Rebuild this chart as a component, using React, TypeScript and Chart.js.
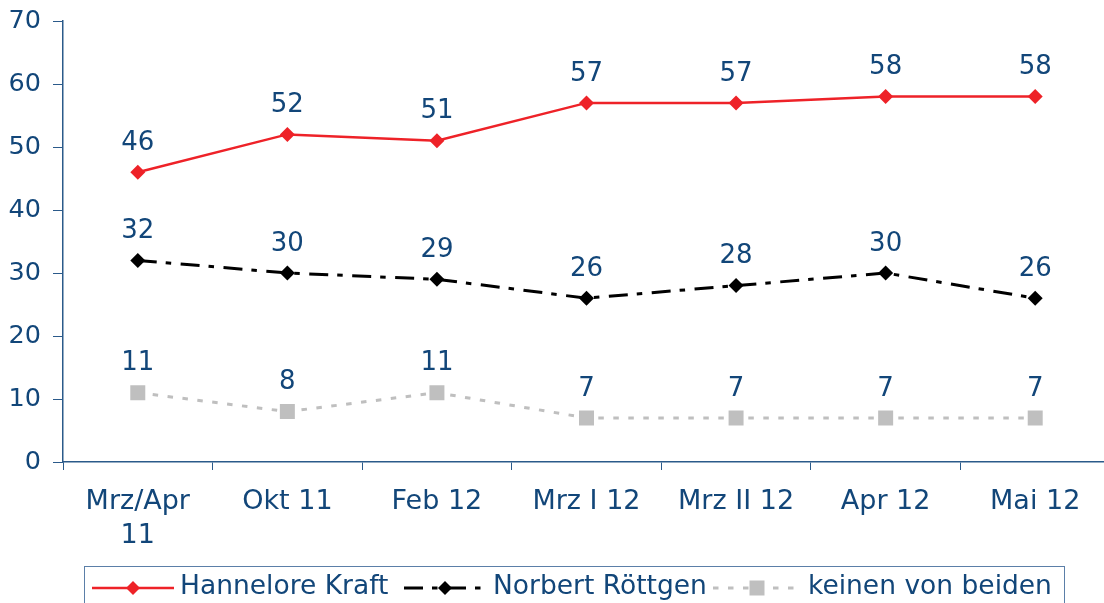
import React, { useEffect, useRef } from "react";
import { Chart, registerables } from "chart.js";

Chart.register(...registerables);

const categories: (string | string[])[] = [
  ["Mrz/Apr", "11"],
  "Okt 11",
  "Feb 12",
  "Mrz I 12",
  "Mrz II 12",
  "Apr 12",
  "Mai 12",
];
const kraft = [46, 52, 51, 57, 57, 58, 58];
const roettgen = [32, 30, 29, 26, 28, 30, 26];
const keinen = [11, 8, 11, 7, 7, 7, 7];
const seriesNames = ["Hannelore Kraft", "Norbert Röttgen", "keinen von beiden"];
const yTicks = [0, 10, 20, 30, 40, 50, 60, 70];

const TEXT = "#124679";
const AXIS = "#2B5A8A";
const RED = "#EE2228";
const BLACK = "#000000";
const GRAY = "#BFBFBF";
const FONT = "DejaVu Sans";

const dashes = [[], [19, 9, 5.5, 9.5], [5.5, 9.5]];

const labelPlugin = {
  id: "valueLabels",
  afterDatasetsDraw(chart: any) {
    const ctx = chart.ctx;
    ctx.save();
    ctx.font = `26px "${FONT}"`;
    ctx.fillStyle = TEXT;
    ctx.textAlign = "center";
    ctx.textBaseline = "middle";
    chart.data.datasets.forEach((ds: any, i: number) => {
      const meta = chart.getDatasetMeta(i);
      meta.data.forEach((el: any, j: number) => {
        ctx.fillText(String(ds.data[j]), el.x, el.y - 29);
      });
    });
    ctx.restore();
  },
};

function drawMarker(ctx: CanvasRenderingContext2D, kind: string, x: number, y: number, color: string) {
  ctx.fillStyle = color;
  ctx.beginPath();
  if (kind === "rectRot") {
    ctx.moveTo(x, y - 7);
    ctx.lineTo(x + 7, y);
    ctx.lineTo(x, y + 7);
    ctx.lineTo(x - 7, y);
    ctx.closePath();
  } else {
    ctx.rect(x - 7.5, y - 7.5, 15, 15);
  }
  ctx.fill();
}

const legendPlugin = {
  id: "boxLegend",
  afterDraw(chart: any) {
    const ctx = chart.ctx;
    ctx.save();
    ctx.strokeStyle = "#5B7FA8";
    ctx.lineWidth = 1;
    ctx.strokeRect(84.5, 566.5, 980, 60);
    const items = [
      { x0: 92, x1: 174, mx: 133, tx: 180 },
      { x0: 404, x1: 487, mx: 445, tx: 493 },
      { x0: 713, x1: 800, mx: 757, tx: 808 },
    ];
    const y = 588;
    chart.data.datasets.forEach((ds: any, i: number) => {
      const it = items[i];
      ctx.strokeStyle = ds.borderColor;
      ctx.lineWidth = ds.borderWidth;
      ctx.setLineDash(ds.borderDash || []);
      ctx.beginPath();
      ctx.moveTo(it.x0, y);
      ctx.lineTo(it.x1, y);
      ctx.stroke();
      ctx.setLineDash([]);
      drawMarker(ctx, ds.pointStyle, it.mx, y, ds.pointBackgroundColor);
      ctx.fillStyle = TEXT;
      ctx.font = `26.5px "${FONT}"`;
      ctx.textAlign = "left";
      ctx.textBaseline = "middle";
      ctx.fillText(ds.label, it.tx, y - 1);
    });
    ctx.restore();
  },
};

export default function App() {
  const ref = useRef<HTMLCanvasElement>(null);
  useEffect(() => {
    if (!ref.current) return;
    const chart = new Chart(ref.current, {
      type: "line",
      data: {
        labels: categories as any,
        datasets: [
          {
            label: seriesNames[0],
            data: kraft,
            borderColor: RED,
            backgroundColor: RED,
            borderWidth: 2.5,
            borderDash: dashes[0],
            pointStyle: "rectRot",
            pointRadius: 7.5,
            pointBackgroundColor: RED,
            pointBorderColor: RED,
            pointBorderWidth: 0,
            tension: 0,
          },
          {
            label: seriesNames[1],
            data: roettgen,
            borderColor: BLACK,
            backgroundColor: BLACK,
            borderWidth: 3,
            borderDash: dashes[1],
            pointStyle: "rectRot",
            pointRadius: 7.5,
            pointBackgroundColor: BLACK,
            pointBorderColor: BLACK,
            pointBorderWidth: 0,
            tension: 0,
          },
          {
            label: seriesNames[2],
            data: keinen,
            borderColor: GRAY,
            backgroundColor: GRAY,
            borderWidth: 3,
            borderDash: dashes[2],
            pointStyle: "rect",
            pointRadius: 10.6,
            pointBackgroundColor: GRAY,
            pointBorderColor: GRAY,
            pointBorderWidth: 0,
            tension: 0,
          },
        ] as any,
      },
      options: {
        responsive: false,
        animation: false,
        layout: { autoPadding: false, padding: { top: 21, left: 0, right: 0, bottom: 0 } } as any,
        plugins: { legend: { display: false }, tooltip: { enabled: false } },
        font: { family: FONT } as any,
        scales: {
          x: {
            offset: true,
            grid: {
              offset: true,
              drawOnChartArea: false,
              drawTicks: true,
              tickLength: 8,
              color: AXIS,
            },
            border: { display: true, color: AXIS, width: 1.5 },
            ticks: {
              color: TEXT,
              font: { family: FONT, size: 27, lineHeight: 1.26 },
              padding: 15,
              maxRotation: 0,
              autoSkip: false,
            },
            afterFit: (s: any) => {
              s.height = 141;
              s.paddingLeft = 0;
              s.paddingRight = 0;
            },
          },
          y: {
            min: 0,
            max: 70,
            afterBuildTicks: (s: any) => {
              s.ticks = yTicks.map((v) => ({ value: v }));
            },
            grid: {
              drawOnChartArea: false,
              drawTicks: true,
              tickLength: 10,
              color: AXIS,
            },
            border: { display: true, color: AXIS, width: 1.5 },
            ticks: {
              color: TEXT,
              font: { family: FONT, size: 25.5 },
              padding: 12,
            },
            afterFit: (s: any) => {
              s.width = 63;
              s.paddingTop = 0;
              s.paddingBottom = 0;
            },
          },
        },
      },
      plugins: [labelPlugin, legendPlugin],
    });
    return () => chart.destroy();
  }, []);
  return (
    <div
      style={{
        position: "fixed",
        left: 0,
        top: 0,
        width: 1104,
        height: 603,
        overflow: "hidden",
        background: "#fff",
      }}
    >
      <canvas
        ref={ref}
        width={1110}
        height={603}
        style={{ width: 1110, height: 603, display: "block" }}
      />
    </div>
  );
}
